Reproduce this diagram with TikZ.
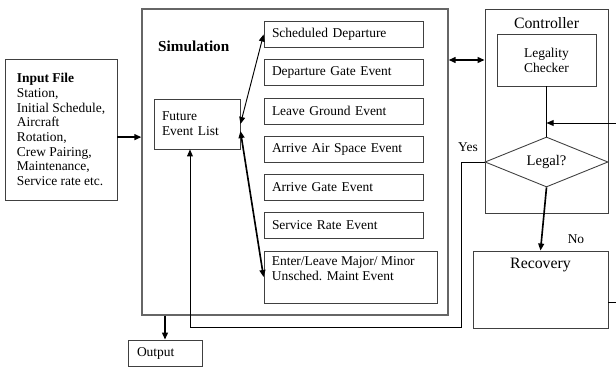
\documentclass[tikz,border=0pt]{standalone}
\usepackage{fontspec}
\setmainfont{Liberation Serif}
\usetikzlibrary{arrows.meta,shapes.geometric,calc}
\newcommand{\upx}{0.3mm}
\newcommand{\fsize}[1]{\fontsize{#1}{12.7}\selectfont}
\tikzset{
  box/.style={draw=black!75, line width=0.75pt, fill=white, inner sep=0pt},
  txtbox/.style={box, align=left, font=\fsize{11.5}},
  evbox/.style={txtbox, minimum width=159*\upx, minimum height=26*\upx, text width=143*\upx},
  lbl/.style={inner sep=0pt, font=\fsize{11.5}},
  biglbl/.style={inner sep=0pt, font=\fsize{13.5}},
  arr/.style={-{Triangle[length=6pt,width=5pt]}, line width=1.4pt},
  tarr/.style={-{Triangle[length=6pt,width=5pt]}, line width=0.8pt},
  darr/.style={{Triangle[length=6pt,width=5pt]}-{Triangle[length=6pt,width=5pt]}, line width=1.4pt},
  tdarr/.style={{Triangle[length=6pt,width=5pt]}-{Triangle[length=6pt,width=5pt]}, line width=0.8pt}}
\begin{document}
\begin{tikzpicture}[x=\upx, y=-\upx]
  \useasboundingbox (0,0) rectangle (616,367);
  % input data
  \node[box, align=left, font=\fontsize{11.5}{12.5}\selectfont,
        minimum width=112*\upx, minimum height=141*\upx] (input) at (61,129.5)
    {\textbf{Input File}\\Station,\\Initial Schedule,\\Aircraft\\Rotation,\\Crew Pairing,\\Maintenance,\\Service rate etc.};
  % simulation block
  \node[box, draw=black!60, line width=1.1pt, minimum width=306*\upx, minimum height=306*\upx] (sim) at (295,162) {};
  \node[anchor=west, inner sep=0pt, font=\bfseries\fsize{13}] (simlbl) at (158,46) {Simulation};
  \node[txtbox, minimum width=86*\upx, minimum height=50*\upx, text width=70*\upx] (fel) at (197,124)
    {Future\\Event List};
  \foreach \nm/\yy/\txt in {sched/34.5/Scheduled Departure, depgate/72.5/Departure Gate Event,
                            leavegnd/111/Leave Ground Event, arrair/149/Arrive Air Space Event,
                            arrgate/187/Arrive Gate Event, svcrate/225.5/Service Rate Event}
    \node[evbox] (\nm) at (343.5,\yy) {\txt};
  \node[box, minimum width=173*\upx, minimum height=52*\upx,
        label={[lbl, align=left, anchor=north west, xshift=2.4mm, yshift=-1.8mm]north west:Enter/Leave Major/ Minor\\Unsched. Maint Event}]
    (enter) at (350.5,277) {};
  % controller block
  \node[box, minimum width=123*\upx, minimum height=204*\upx,
        label={[biglbl, anchor=north, yshift=-2.6mm]north:Controller}] (ctrl) at (546.5,111) {};
  \node[txtbox, align=center, minimum width=99*\upx, minimum height=52*\upx] (check) at (546.5,60)
    {Legality\\Checker};
  \node[draw=black!75, line width=0.75pt, fill=white, diamond, shape aspect=2.46, inner sep=0pt,
        minimum width=123*\upx, minimum height=50*\upx, font=\fsize{12.5}] (legal) at (546.5,162) {Legal?};
  \node[box, minimum width=135*\upx, minimum height=77*\upx,
        label={[biglbl, anchor=north, yshift=-2.3mm]north:Recovery}] (recov) at (540.5,289.5) {};
  \node[txtbox, minimum width=74*\upx, minimum height=26*\upx, text width=56*\upx] (out) at (165,353) {Output};
  % connectors
  \draw[arr] ([yshift=-6.5pt]input.east) -- ([yshift=-6.5pt]input.east -| sim.west);
  \draw[tdarr] (fel.east) -- (sched.west);
  \draw[darr] ([yshift=-6pt]fel.east) -- (enter.west);
  \draw[darr] (sim.east |- check) -- (ctrl.west |- check);
  \draw[line width=0.8pt] (check.south) -- (legal.north);
  \coordinate (rin) at (616,123);
  \draw[tarr] (rin) -- (rin -| check.south);
  \draw[arr] (legal.south) -- (recov.north);
  \node[lbl] (nolbl) at (576,239) {No};
  \coordinate (yesdn) at (461,327);
  \draw[tarr] (legal.west) -| (yesdn) -| ([xshift=-6pt]fel.south);
  \node[lbl] (yeslbl) at (468,147) {Yes};
  \draw[arr] (out.north |- sim.south) -- (out.north);
  \coordinate (rout) at (616,302);
  \draw[line width=0.8pt] (rout -| recov.east) -- (rout);
\end{tikzpicture}
\end{document}
